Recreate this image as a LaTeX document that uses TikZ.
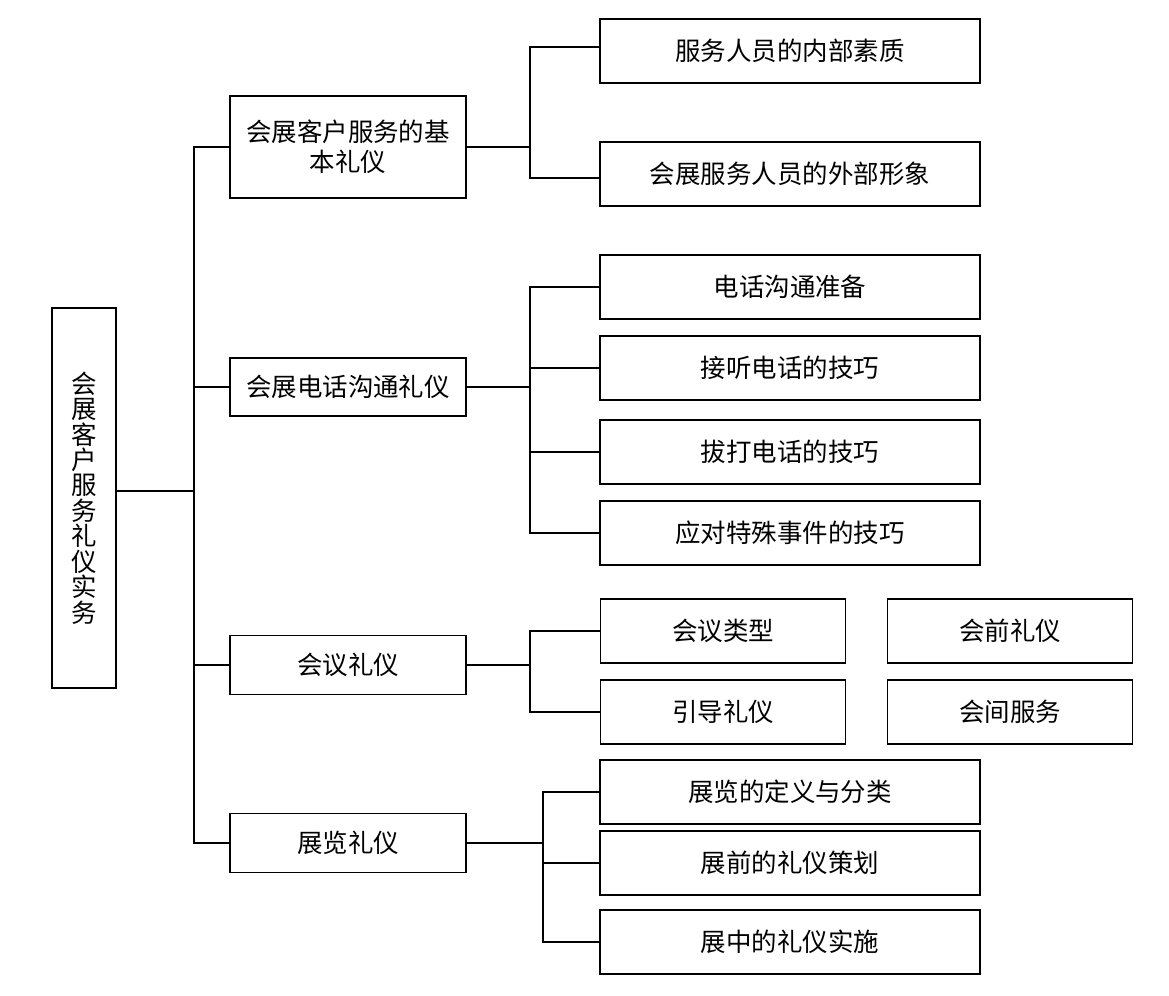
\documentclass[tikz,border=0pt]{standalone}
\usepackage{fontspec}
\setmainfont{Noto Sans CJK SC}
\usetikzlibrary{positioning}

\begin{document}
\begin{tikzpicture}[x=0.02cm, y=-0.02cm,
    box/.style={draw, line width=1pt, inner sep=0pt, align=center,
      font=\fontsize{14.5pt}{17pt}\selectfont},
    leaf/.style={box, minimum width=7.6cm, minimum height=1.28cm},
    half/.style={box, minimum width=4.9cm, minimum height=1.27cm}]

      \useasboundingbox (0, 0) rectangle (1169, 995);

      % root
      \node [box, minimum width=1.28cm, minimum height=7.6cm,
        font=\fontsize{14.5pt}{14.5pt}\selectfont] (root) at (84, 498)
        {会\\展\\客\\户\\服\\务\\礼\\仪\\实\\务};

      % first level
      \node [box, minimum width=4.72cm, minimum height=2.04cm] (a) at (348, 147)
        {会展客户服务的基\\本礼仪};
      \node [box, minimum width=4.72cm, minimum height=1.16cm] (b) at (348, 387) {会展电话沟通礼仪};
      \node [box, minimum width=4.72cm, minimum height=1.18cm] (c) at (348, 665) {会议礼仪};
      \node [box, minimum width=4.72cm, minimum height=1.18cm] (d) at (348, 843) {展览礼仪};

      % second level
      \node [leaf] (a1) at (790, 51) {服务人员的内部素质};
      \node [leaf] (a2) at (790, 174) {会展服务人员的外部形象};

      \node [leaf] (b1) at (790, 287) {电话沟通准备};
      \node [leaf] (b2) at (790, 368) {接听电话的技巧};
      \node [leaf] (b3) at (790, 452) {拔打电话的技巧};
      \node [leaf] (b4) at (790, 533) {应对特殊事件的技巧};

      \node [half] (c1) at (723, 631) {会议类型};
      \node [half] (c2) at (1010, 631) {会前礼仪};
      \node [half] (c3) at (723, 712) {引导礼仪};
      \node [half] (c4) at (1010, 712) {会间服务};

      \node [leaf] (d1) at (790, 792) {展览的定义与分类};
      \node [leaf] (d2) at (790, 863) {展前的礼仪策划};
      \node [leaf] (d3) at (790, 942) {展中的礼仪实施};

      % connectors
      \coordinate (t0) at (194, 0);
      \coordinate (t1) at (530, 0);
      \coordinate (t2) at (543, 0);

      \draw [line width=1pt] ([yshift=0.14cm]root.east) -- ([yshift=0.14cm]root.east -| t0);
      \draw [line width=1pt] (a.west) -- (a.west -| t0) -- (d.west -| t0) -- (d.west);
      \foreach \n in {b, c}
        \draw [line width=1pt] (\n.west) -- (\n.west -| t0);

      \draw [line width=1pt] (a.east) -- (a.east -| t1);
      \draw [line width=1pt] ([yshift=0.08cm]a1.west) -- ([yshift=0.08cm]a1.west -| t1)
        -- ([yshift=-0.08cm]a2.west -| t1) -- ([yshift=-0.08cm]a2.west);

      \draw [line width=1pt] (b.east) -- (b.east -| t1);
      \draw [line width=1pt] (b1.west) -- (b1.west -| t1) -- (b4.west -| t1) -- (b4.west);
      \foreach \n in {b2, b3}
        \draw [line width=1pt] (\n.west) -- (\n.west -| t1);

      \draw [line width=1pt] (c.east) -- (c.east -| t1);
      \draw [line width=1pt] (c1.west) -- (c1.west -| t1) -- (c3.west -| t1) -- (c3.west);

      \draw [line width=1pt] (d.east) -- (d.east -| t2);
      \draw [line width=1pt] (d1.west) -- (d1.west -| t2) -- (d3.west -| t2) -- (d3.west);
      \draw [line width=1pt] (d2.west) -- (d2.west -| t2);

    \end{tikzpicture}
\end{document}
